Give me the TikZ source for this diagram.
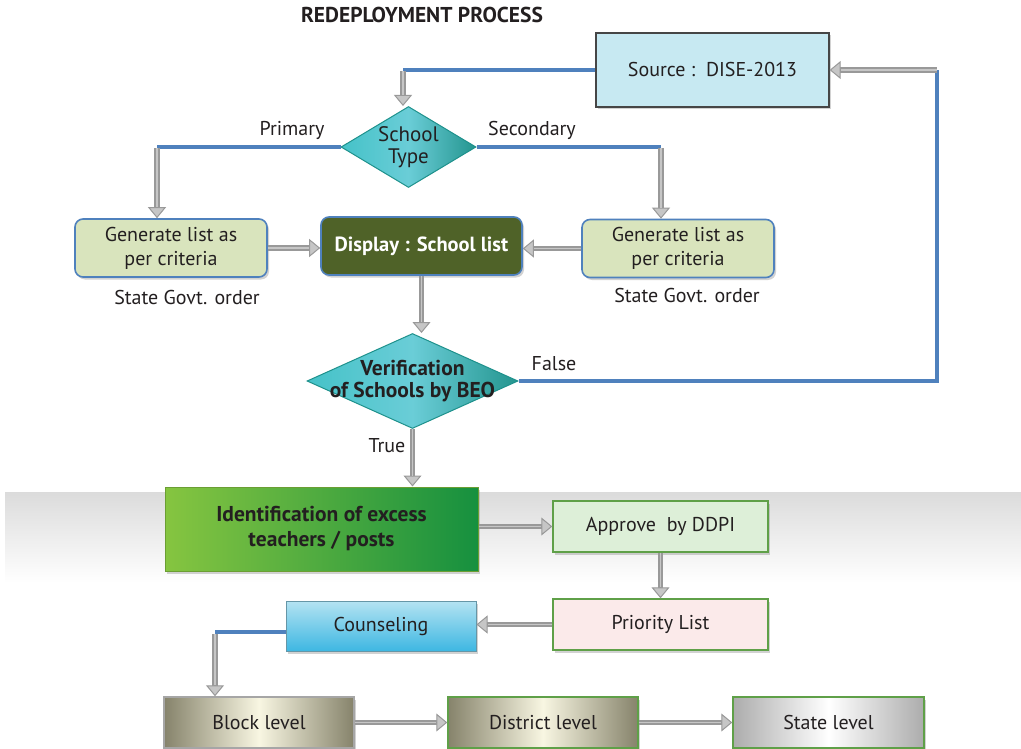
\documentclass[tikz,border=0pt]{standalone}
\usepackage{fontspec}
\setmainfont{PT Sans}
\usetikzlibrary{arrows.meta,shapes.geometric,shadows}

\definecolor{lineblue}{HTML}{4F81BD}
\definecolor{srcfill}{HTML}{C7E9F2}
\definecolor{genfill}{HTML}{D9E4BD}
\definecolor{olive}{HTML}{4F6228}
\definecolor{tealA}{HTML}{45C2C8}
\definecolor{tealB}{HTML}{6ACDD7}
\definecolor{tealC}{HTML}{24958F}
\definecolor{tealedge}{HTML}{1E918C}
\definecolor{grnA}{HTML}{86C540}
\definecolor{grnB}{HTML}{16903F}
\definecolor{boxgreen}{HTML}{5FA048}
\definecolor{apprfill}{HTML}{DDEFD8}
\definecolor{priofill}{HTML}{FBEAEA}
\definecolor{cyanA}{HTML}{B4E3F2}
\definecolor{cyanB}{HTML}{3EB7E2}
\definecolor{tanA}{HTML}{86836B}
\definecolor{tanB}{HTML}{F8F6E2}
\definecolor{txt}{HTML}{231F20}

\tikzset{
  base/.style={font=\fontsize{20}{24}\selectfont, text=txt, align=center, inner sep=0pt},
  shadowed/.style={drop shadow={opacity=0.35, shadow xshift=2pt, shadow yshift=-2.5pt}},
  decision/.style={base, diamond, draw=tealedge, line width=1pt, inner sep=0pt,
    left color=tealA, right color=tealC, middle color=tealB},
  genbox/.style={base, rectangle, rounded corners=8pt, draw=lineblue, line width=1.6pt,
    fill=genfill, minimum width=192pt, minimum height=58pt, shadowed},
  greenbox/.style={base, rectangle, draw=boxgreen, line width=1.4pt,
    minimum width=215pt, minimum height=51pt, shadowed},
  levelbox/.style={base, rectangle, line width=1.4pt, minimum width=190pt,
    minimum height=51pt, shadowed},
  bline/.style={draw=lineblue, line width=3.6pt},
  garrow/.style={draw=gray!80, line width=5.5pt,
    -{Triangle[width=18pt,length=11pt,line width=1pt,color=gray!80,fill=gray!45]},
    postaction={draw=gray!45, line width=1.6pt, -, shorten >=11pt}},
  lbl/.style={base}
}

\begin{document}
\begin{tikzpicture}[x=1pt,y=-1pt]
\useasboundingbox (0,0) rectangle (1021,749);
\fill[white] (0,0) rectangle (1021,749);

% soft grey band behind the middle row
\fill[top color=gray!28, bottom color=white] (5,492) rectangle (1021,583);

% title
\node[base, font=\bfseries\fontsize{21.5}{24}\selectfont] (title) at (422,15) {REDEPLOYMENT PROCESS};

% upper part of the flow
\node[base, rectangle, draw=gray!55!black, line width=1.3pt, fill=srcfill,
  minimum width=233pt, minimum height=74pt, shadowed] (src) at (712.5,70) {Source :\ \ DISE-2013};

\node[decision, minimum width=135pt, minimum height=81pt,
  label={[base, font=\fontsize{21}{24}\selectfont]center:School\\[-2pt]Type}] (stype) at (408.5,147) {};

\node[genbox] (gen1) at (171,248) {Generate list as\\per criteria};
\node[genbox] (gen2) at (678,248.5) {Generate list as\\per criteria};
\node[base, rectangle, rounded corners=8pt, draw=lineblue, line width=1.6pt, fill=olive,
  text=white, font=\bfseries\fontsize{20.5}{24}\selectfont,
  minimum width=201pt, minimum height=58pt, shadowed] (disp) at (421.5,246) {Display : School list};

\node[lbl] (ord1) at (187,297) {State Govt. order};
\node[lbl] (ord2) at (687,295) {State Govt. order};

\node[decision, minimum width=211pt, minimum height=95pt,
  label={[base, font=\bfseries\fontsize{21.5}{22}\selectfont]center:Verification\\of Schools by BEO}] (ver) at (412.5,381) {};

% lower part of the flow
\node[base, rectangle, draw=grnA!80!black, line width=1pt, left color=grnA, right color=grnB,
  font=\bfseries\fontsize{21.5}{25}\selectfont,
  minimum width=313pt, minimum height=84pt, shadowed] (ident) at (321.5,529) {Identification of excess\\teachers / posts};

\node[greenbox, fill=apprfill] (appr) at (660.5,526.5) {Approve\ \ by DDPI};
\node[greenbox, fill=priofill] (prio) at (660.5,624.5) {Priority List};

\node[base, rectangle, draw=gray!60!cyanB, line width=1pt, top color=cyanA, bottom color=cyanB,
  minimum width=190pt, minimum height=50pt, shadowed] (couns) at (381,626) {Counseling};

\node[levelbox, draw=gray!70, left color=tanA, right color=tanA, middle color=tanB] (block) at (259,722.5) {Block level};
\node[levelbox, draw=boxgreen, left color=tanA, right color=tanA, middle color=tanB] (dist) at (543,722.5) {District level};
\node[levelbox, draw=boxgreen, left color=gray!65, right color=gray!65, middle color=white,
  minimum width=191pt] (state) at (828.5,722.5) {State level};

% branch labels
\node[lbl] (lprim) at (292,130) {Primary};
\node[lbl] (lsec) at (532,130) {Secondary};
\node[lbl] (lfalse) at (554,364) {False};
\node[lbl] (ltrue) at (387,446) {True};

% turning points of the connectors
\coordinate (c1) at (403,70);
\coordinate (c2) at (157,147);
\coordinate (c3) at (661,147);
\coordinate (c4) at (937,381);
\coordinate (c5) at (937,70);
\coordinate (c6) at (215,632);

% connectors
\draw[bline] (src.west) -- (c1);
\draw[garrow] ([yshift=-1.5pt]c1) -- (c1 |- stype.north);
\draw[bline] (stype.west) -- (c2);
\draw[garrow] ([yshift=-1.5pt]c2) -- (c2 |- gen1.north);
\draw[bline] (stype.east) -- (c3);
\draw[garrow] ([yshift=-1.5pt]c3) -- (c3 |- gen2.north);
\draw[garrow] (gen1.east) -- (disp.west |- gen1.east);
\draw[garrow] (gen2.west) -- (disp.east |- gen2.west);
\draw[garrow] (disp.south) -- (disp.south |- ver.north);
\draw[bline] (ver.east) -- (c4) -- (c5);
\draw[garrow] (c5) -- (src.east);
\draw[garrow] (ver.south) -- (ver.south |- ident.north);
\draw[garrow] (ident.east |- appr.west) -- (appr.west);
\draw[garrow] (appr.south) -- (prio.north);
\draw[garrow] (prio.west) -- (prio.west -| couns.east);
\draw[bline] (c6 -| couns.west) -- (c6);
\draw[garrow] ([yshift=-1.5pt]c6) -- (c6 |- block.north);
\draw[garrow] (block.east) -- (dist.west);
\draw[garrow] (dist.east) -- (state.west);
\end{tikzpicture}
\end{document}
